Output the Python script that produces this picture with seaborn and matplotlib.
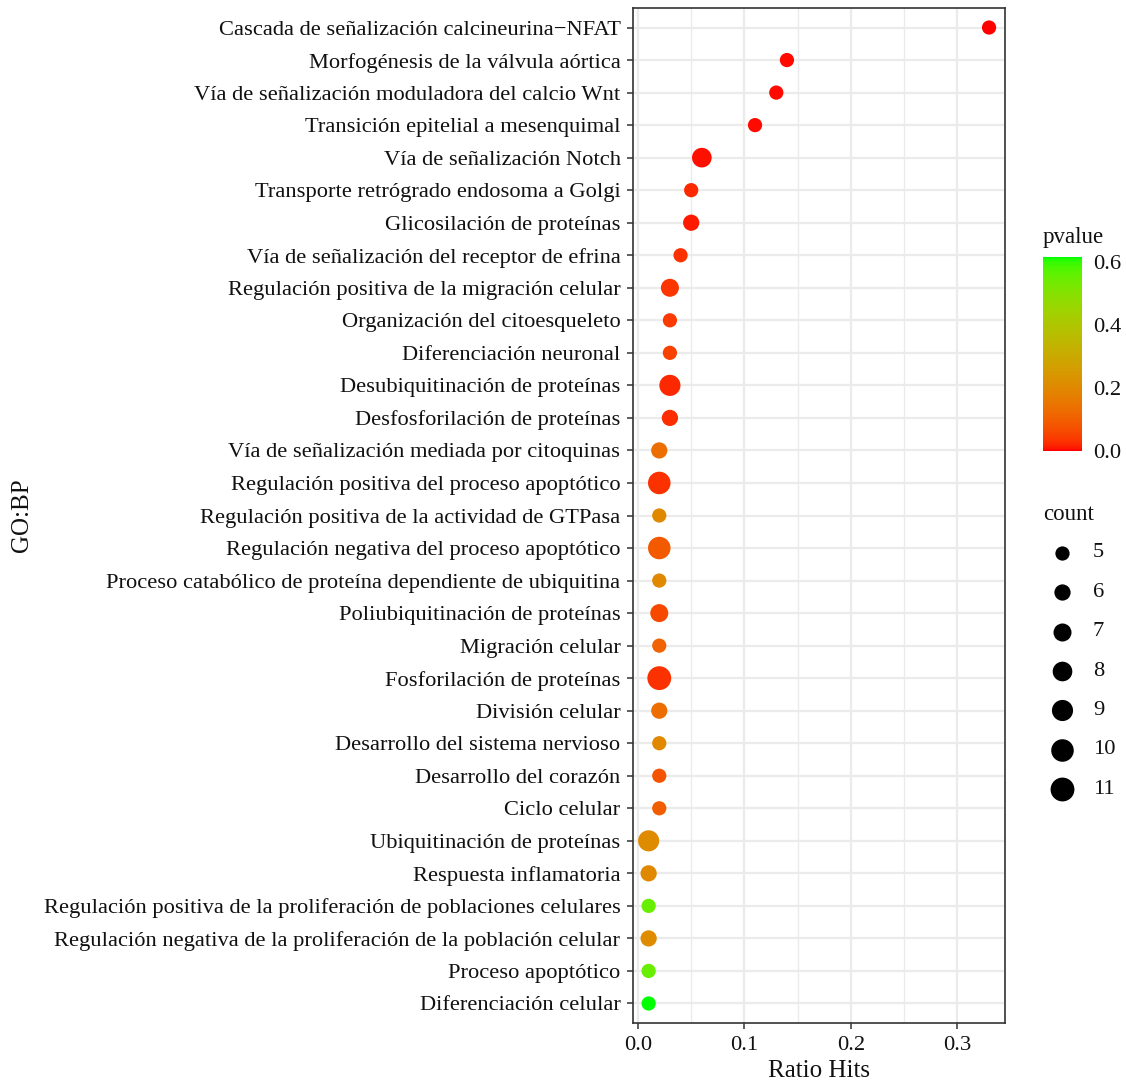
import numpy as np
import pandas as pd
import matplotlib
matplotlib.use("Agg")
import matplotlib.pyplot as plt
from matplotlib.colors import ListedColormap, Normalize
import seaborn as sns

# GO biological process terms, top to bottom
terms = [
    "Cascada de señalización calcineurina−NFAT",
    "Morfogénesis de la válvula aórtica",
    "Vía de señalización moduladora del calcio Wnt",
    "Transición epitelial a mesenquimal",
    "Vía de señalización Notch",
    "Transporte retrógrado endosoma a Golgi",
    "Glicosilación de proteínas",
    "Vía de señalización del receptor de efrina",
    "Regulación positiva de la migración celular",
    "Organización del citoesqueleto",
    "Diferenciación neuronal",
    "Desubiquitinación de proteínas",
    "Desfosforilación de proteínas",
    "Vía de señalización mediada por citoquinas",
    "Regulación positiva del proceso apoptótico",
    "Regulación positiva de la actividad de GTPasa",
    "Regulación negativa del proceso apoptótico",
    "Proceso catabólico de proteína dependiente de ubiquitina",
    "Poliubiquitinación de proteínas",
    "Migración celular",
    "Fosforilación de proteínas",
    "División celular",
    "Desarrollo del sistema nervioso",
    "Desarrollo del corazón",
    "Ciclo celular",
    "Ubiquitinación de proteínas",
    "Respuesta inflamatoria",
    "Regulación positiva de la proliferación de poblaciones celulares",
    "Regulación negativa de la proliferación de la población celular",
    "Proceso apoptótico",
    "Diferenciación celular",
]
ratio_hits = [0.33, 0.14, 0.13, 0.11, 0.06, 0.05, 0.05, 0.04, 0.03, 0.03, 0.03,
              0.03, 0.03, 0.02, 0.02, 0.02, 0.02, 0.02, 0.02, 0.02, 0.02, 0.02,
              0.02, 0.02, 0.02, 0.01, 0.01, 0.01, 0.01, 0.01, 0.01]
counts = [5, 5, 5, 5, 8, 5, 6, 5, 7, 5, 5,
          9, 6, 6, 10, 5, 10, 5, 7, 5, 11, 6,
          5, 5, 5, 9, 6, 5, 6, 5, 5]
pvalues = [0.0001, 0.004, 0.004, 0.004, 0.005, 0.02, 0.012, 0.03, 0.035, 0.04, 0.05,
           0.02, 0.025, 0.13, 0.03, 0.20, 0.09, 0.20, 0.06, 0.11, 0.03, 0.13,
           0.20, 0.08, 0.10, 0.21, 0.20, 0.55, 0.21, 0.55, 0.615]

count_breaks = [5, 6, 7, 8, 9, 10, 11]
pvalue_ticks = [0.0, 0.2, 0.4, 0.6]
x_ticks = [0.0, 0.1, 0.2, 0.3]
x_minor = [0.05, 0.15, 0.25]

df = pd.DataFrame({"term": terms, "ratio": ratio_hits,
                   "count": counts, "pvalue": pvalues})


# red -> green gradient interpolated in CIE Lab space
def srgb_to_lab(rgb):
    rgb = np.asarray(rgb, float)
    lin = np.where(rgb <= 0.04045, rgb / 12.92, ((rgb + 0.055) / 1.055) ** 2.4)
    m = np.array([[0.4124, 0.3576, 0.1805],
                  [0.2126, 0.7152, 0.0722],
                  [0.0193, 0.1192, 0.9505]])
    xyz = m @ lin / np.array([0.95047, 1.0, 1.08883])
    f = np.where(xyz > 0.008856, np.cbrt(xyz), 7.787 * xyz + 16 / 116)
    return np.array([116 * f[1] - 16, 500 * (f[0] - f[1]), 200 * (f[1] - f[2])])


def lab_to_srgb(lab):
    L, a, b = lab
    fy = (L + 16) / 116
    fx = fy + a / 500
    fz = fy - b / 200
    f = np.array([fx, fy, fz])
    xyz = np.where(f ** 3 > 0.008856, f ** 3, (f - 16 / 116) / 7.787)
    xyz = xyz * np.array([0.95047, 1.0, 1.08883])
    minv = np.array([[3.2406, -1.5372, -0.4986],
                     [-0.9689, 1.8758, 0.0415],
                     [0.0557, -0.2040, 1.0570]])
    lin = np.clip(minv @ xyz, 0, 1)
    rgb = np.where(lin <= 0.0031308, 12.92 * lin, 1.055 * lin ** (1 / 2.4) - 0.055)
    return np.clip(rgb, 0, 1)


lab_lo = srgb_to_lab([1, 0, 0])
lab_hi = srgb_to_lab([0, 1, 0])
cmap = ListedColormap([lab_to_srgb(lab_lo + t * (lab_hi - lab_lo))
                       for t in np.linspace(0, 1, 256)])

p_norm = Normalize(vmin=0.0, vmax=max(pvalues))
size_range = (105, 295)
size_lims = (5, 11)


def marker_area(c):
    return size_range[0] + (c - size_lims[0]) / (size_lims[1] - size_lims[0]) * (size_range[1] - size_range[0])


sns.set_theme(style="white")
plt.rcParams["font.family"] = ["Liberation Serif", "DejaVu Serif"]
text_col = "#111111"
fs = 16.2

fig = plt.figure(figsize=(11.26, 10.84), dpi=100)
ax = fig.add_axes([633 / 1126, 1 - 1023 / 1084, 372 / 1126, 1015 / 1084])

ax.set_axisbelow(True)
sns.scatterplot(data=df, x="ratio", y="term", hue="pvalue", size="count",
                palette=cmap, hue_norm=p_norm, sizes=size_range,
                size_norm=size_lims, linewidth=0, legend=False, ax=ax, zorder=3)

ax.set_xlim(-0.0047, 0.345)
ax.set_ylim(len(terms) - 0.4, -0.6)
ax.set_xticks(x_ticks)
ax.set_xticklabels([f"{v:.1f}" for v in x_ticks])
ax.set_xticks(x_minor, minor=True)
ax.grid(which="major", color="#ebebeb", linewidth=1.6)
ax.grid(which="minor", axis="x", color="#ebebeb", linewidth=1.0)
for s in ax.spines.values():
    s.set_color("#333333")
    s.set_linewidth(1.2)
ax.tick_params(axis="both", which="major", length=4, width=1.1, color="#333333",
               labelsize=fs, labelcolor=text_col, bottom=True, left=True)
ax.tick_params(axis="y", which="major", pad=5)
ax.tick_params(axis="x", which="major", pad=5)
ax.tick_params(axis="x", which="minor", length=0)
ax.set_xlabel("Ratio Hits", fontsize=18, color=text_col)
ax.set_ylabel("GO:BP", fontsize=18, color=text_col)
ax.xaxis.label.set_va("center")
ax.xaxis.set_label_coords(0.5, (1023 - 1071) / 1015)
ax.yaxis.label.set_va("center")
ax.yaxis.set_label_coords((22 - 633) / 372, 0.5)

# colour bar for p-values
cax = fig.add_axes([1043 / 1126, 1 - 451 / 1084, 39 / 1126, 194 / 1084])
sm = plt.cm.ScalarMappable(norm=p_norm, cmap=cmap)
cb = fig.colorbar(sm, cax=cax, ticks=pvalue_ticks)
cb.outline.set_visible(False)
cb.ax.set_yticklabels([f"{v:.1f}" for v in pvalue_ticks])
cb.ax.tick_params(which="major", direction="in", color="white", length=6, width=1,
                  left=True, right=True, labelleft=False, labelright=True,
                  labelsize=fs, labelcolor=text_col, pad=8)
cb.ax.tick_params(which="minor", length=0)
fig.text(1043 / 1126, 1 - 238 / 1084, "pvalue", fontsize=16.5, color=text_col,
         ha="left", va="center")

# size legend for counts
fig.text(1043 / 1126, 1 - 514 / 1084, "count", fontsize=16.5, color=text_col,
         ha="left", va="center")
lax = fig.add_axes([1040 / 1126, 1 - 809 / 1084, 80 / 1126, 276 / 1084])
lax.set_xlim(0, 1)
lax.set_ylim(len(count_breaks) - 0.5, -0.5)
lax.axis("off")
for i, c in enumerate(count_breaks):
    lax.scatter(0.28, i, s=marker_area(c), color="black", linewidth=0)
    lax.text(0.66, i, str(c), fontsize=fs, color=text_col, ha="left", va="center")

fig.savefig("out.png", dpi=100, facecolor="white")
